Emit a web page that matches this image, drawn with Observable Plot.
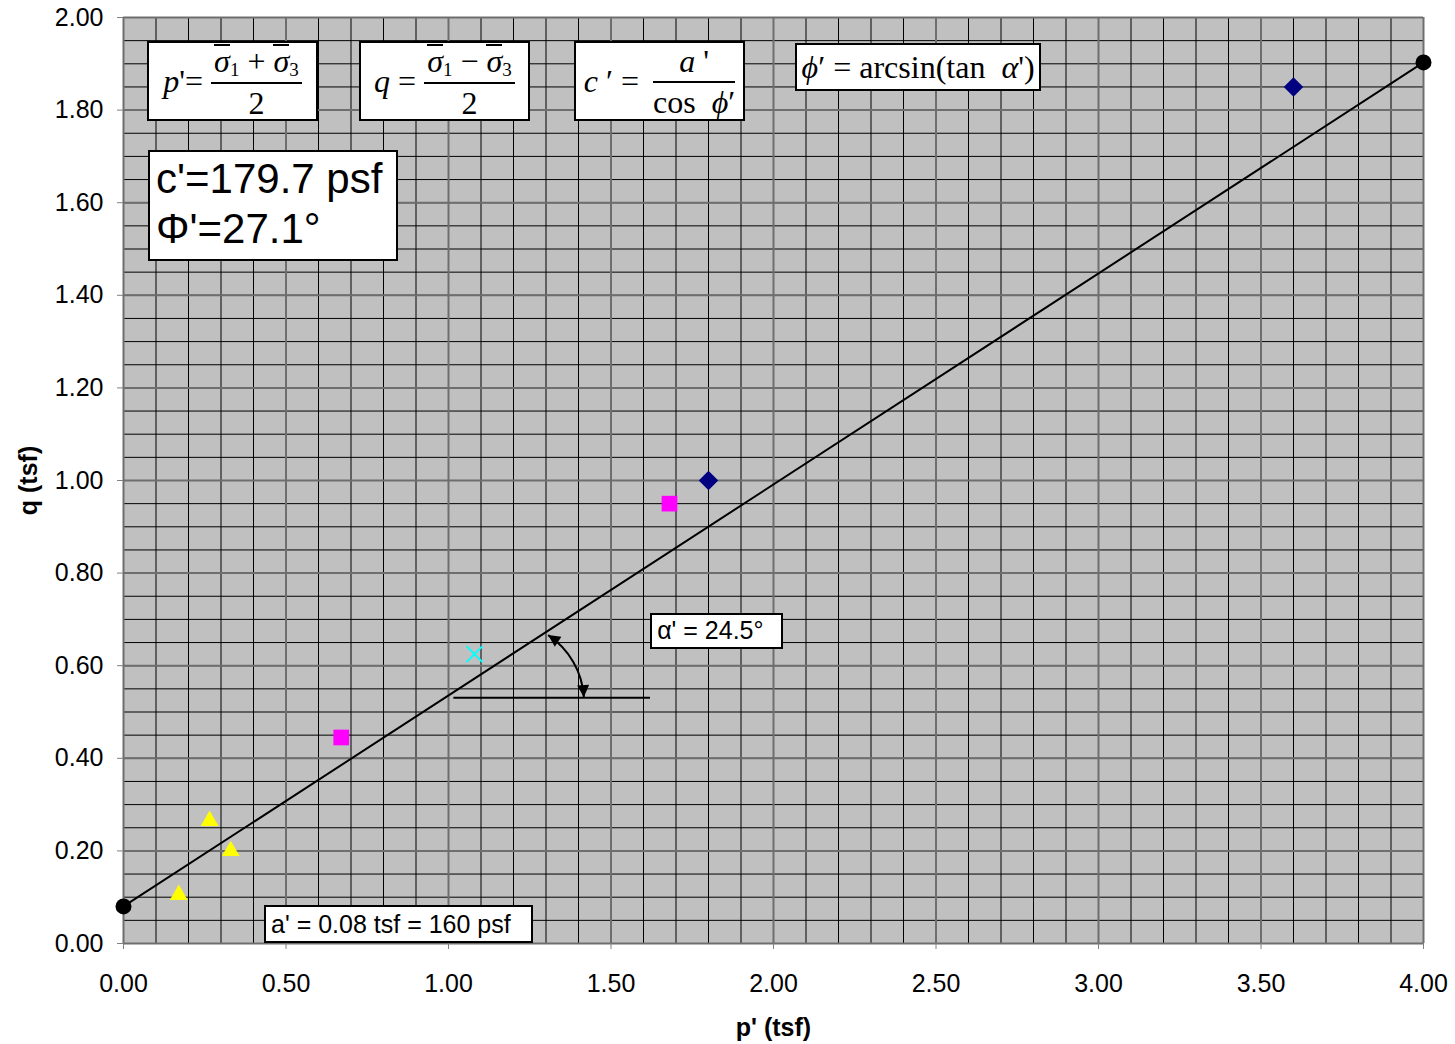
<!DOCTYPE html>
<html>
<head>
<meta charset="utf-8">
<script src="https://cdn.jsdelivr.net/npm/d3@7"></script>
<script src="https://cdn.jsdelivr.net/npm/@observablehq/plot@0.6"></script>
<style>
  html, body { margin: 0; padding: 0; background: white; }
  #wrap { position: relative; width: 1455px; height: 1044px; }
  .box { position: absolute; box-sizing: border-box; border: 2px solid black; background: white; color: black; }
  .eq { display: flex; align-items: center; justify-content: center; font-family: "Liberation Serif", "Times New Roman", serif; font-size: 32px; line-height: 1; white-space: nowrap; }
  .frac { display: inline-flex; flex-direction: column; align-items: stretch; margin-left: 8px; }
  .num { border-bottom: 2px solid black; padding: 0 3px 3px 3px; text-align: center; }
  .den { padding-top: 3px; text-align: center; }
  .ov { display: inline-block; border-top: 2px solid black; line-height: 0.75; padding-top: 3px; font-style: italic; }
  .eq sub { font-size: 19px; vertical-align: -4px; font-style: normal; }
  .txt { display: flex; align-items: center; font-family: Arial, "Liberation Sans", sans-serif; font-size: 25px; white-space: nowrap; padding-left: 5px; }
  .big { font-family: Arial, "Liberation Sans", sans-serif; font-size: 42px; line-height: 50px; padding: 2px 0 0 6px; white-space: nowrap; }
</style>
</head>
<body>
<div id="wrap"></div>
<script>
// ---- data ----
const diamondX = [1.80, 3.60];
const diamondY = [1.00, 1.85];
const squareX = [0.67, 1.68];
const squareY = [0.445, 0.95];
const crossX = [1.08];
const crossY = [0.625];
const triangleX = [0.17, 0.265, 0.33];
const triangleY = [0.105, 0.265, 0.20];
const fitX = [0.00, 4.00];
const fitY = [0.08, 1.903];

const xTicks = [0, 0.5, 1, 1.5, 2, 2.5, 3, 3.5, 4];
const yTicks = [0, 0.2, 0.4, 0.6, 0.8, 1.0, 1.2, 1.4, 1.6, 1.8, 2.0];
const xMinor = d3.range(0, 41).map(i => i / 10);
const yMinor = d3.range(0, 41).map(i => i / 20);

// annotations (data coordinates)
const angleLine = [{x1: 1.015, y1: 0.531, x2: 1.62, y2: 0.531}];
const angleArc = {x1: 1.308, y1: 0.665, x2: 1.418, y2: 0.531, radius: 80};

const toRows = (xs, ys) => xs.map((x, i) => ({x, y: ys[i]}));

const arcMark = (index, scales) => {
  const {x, y} = scales;
  const g = d3.create("svg:g");
  g.append("defs").append("marker")
    .attr("id", "arrowhead")
    .attr("viewBox", "0 0 10 10")
    .attr("refX", 10).attr("refY", 5)
    .attr("markerWidth", 15).attr("markerHeight", 12)
    .attr("markerUnits", "userSpaceOnUse")
    .attr("orient", "auto-start-reverse")
    .append("path").attr("d", "M0,0L10,5L0,10Z").attr("fill", "black");
  const sx = x(angleArc.x1), sy = y(angleArc.y1), ex = x(angleArc.x2), ey = y(angleArc.y2);
  g.append("path")
    .attr("d", `M${sx},${sy}A${angleArc.radius},${angleArc.radius} 0 0 1 ${ex},${ey}`)
    .attr("fill", "none").attr("stroke", "black").attr("stroke-width", 2)
    .attr("marker-start", "url(#arrowhead)").attr("marker-end", "url(#arrowhead)");
  return g.node();
};

const plot = Plot.plot({
  width: 1455,
  height: 1044,
  marginLeft: 123,
  marginRight: 32,
  marginTop: 17,
  marginBottom: 101,
  x: {domain: [0, 4]},
  y: {domain: [0, 2]},
  style: {fontFamily: "Arial, 'Liberation Sans', sans-serif", fontSize: "25px", background: "white", color: "black"},
  marks: [
    Plot.frame({fill: "#c0c0c0", stroke: null}),
    Plot.ruleX(xMinor, {stroke: "black", strokeWidth: 1}),
    Plot.ruleY(yMinor, {stroke: "black", strokeWidth: 1}),
    Plot.ruleX(xTicks, {stroke: "#6e6e6e", strokeWidth: 2}),
    Plot.ruleY(yTicks, {stroke: "#6e6e6e", strokeWidth: 2}),
    Plot.axisX({ticks: xTicks, tickFormat: d => d.toFixed(2), tickSize: 6, tickPadding: 25, stroke: "#808080", fill: "black", label: null, fontSize: 25}),
    Plot.axisY({ticks: yTicks, tickFormat: d => d.toFixed(2), tickSize: 6, tickPadding: 14, stroke: "#808080", fill: "black", label: null, fontSize: 25}),
    Plot.text(["p' (tsf)"], {frameAnchor: "bottom", dy: 84, text: d => d, fontWeight: "bold", fontSize: 25, lineAnchor: "middle"}),
    Plot.text(["q (tsf)"], {frameAnchor: "left", dx: -95, rotate: -90, text: d => d, fontWeight: "bold", fontSize: 25, textAnchor: "middle"}),
    Plot.link(angleLine, {x1: "x1", y1: "y1", x2: "x2", y2: "y2", stroke: "black", strokeWidth: 2}),
    arcMark,
    Plot.line(toRows(fitX, fitY), {x: "x", y: "y", stroke: "black", strokeWidth: 2}),
    Plot.dot(toRows(fitX, fitY), {x: "x", y: "y", r: 8, fill: "black", stroke: null}),
    Plot.dot(toRows(triangleX, triangleY), {x: "x", y: "y", symbol: "triangle", r: 6.6, fill: "#ffff00", stroke: null}),
    Plot.dot(toRows(squareX, squareY), {x: "x", y: "y", symbol: "square", r: 8.85, fill: "#ff00ff", stroke: null}),
    Plot.dot(toRows(diamondX, diamondY), {x: "x", y: "y", symbol: "diamond2", r: 8.8, fill: "#000080", stroke: null}),
    Plot.dot(toRows(crossX, crossY), {x: "x", y: "y", symbol: "times", r: 7.3, stroke: "#00ffff", strokeWidth: 2, fill: "none"})
  ]
});

const wrap = document.getElementById("wrap");
wrap.appendChild(plot);

// annotation boxes placed through the plot's scales
const sx = plot.scale("x"), sy = plot.scale("y");
const notes = [
  {x0: 0.074, x1: 0.600, y0: 1.775, y1: 1.948, cls: "eq",
   html: `<span><i>p</i>'=</span><span class="frac"><span class="num"><span class="ov">σ</span><sub>1</sub> + <span class="ov">σ</span><sub>3</sub></span><span class="den">2</span></span>`},
  {x0: 0.726, x1: 1.252, y0: 1.775, y1: 1.948, cls: "eq",
   html: `<span><i>q</i> =</span><span class="frac"><span class="num"><span class="ov">σ</span><sub>1</sub> − <span class="ov">σ</span><sub>3</sub></span><span class="den">2</span></span>`},
  {x0: 1.388, x1: 1.914, y0: 1.775, y1: 1.948, cls: "eq",
   html: `<span><i>c</i> ′ =</span><span class="frac" style="margin-left:14px"><span class="num" style="padding:0 4px 4px 4px"><i>a</i> '</span><span class="den">cos&nbsp; <i>ϕ</i>′</span></span>`},
  {x0: 2.068, x1: 2.825, y0: 1.840, y1: 1.944, cls: "eq",
   html: `<span><i>ϕ</i>′ = arcsin(tan&nbsp; <i>α</i>')</span>`},
  {x0: 0.077, x1: 0.846, y0: 1.473, y1: 1.713, cls: "big",
   html: `c'=179.7 psf<br>Φ'=27.1°`},
  {x0: 1.622, x1: 2.031, y0: 0.635, y1: 0.713, cls: "txt",
   html: `α' = 24.5°`},
  {x0: 0.434, x1: 1.262, y0: 0.000, y1: 0.082, cls: "txt",
   html: `a' = 0.08 tsf = 160 psf`}
];
for (const n of notes) {
  const d = document.createElement("div");
  d.className = "box " + n.cls;
  const left = sx.apply(n.x0), right = sx.apply(n.x1);
  const top = sy.apply(n.y1), bottom = sy.apply(n.y0);
  d.style.left = left + "px";
  d.style.top = top + "px";
  d.style.width = (right - left) + "px";
  d.style.height = (bottom - top) + "px";
  d.innerHTML = n.html;
  wrap.appendChild(d);
}
</script>
</body>
</html>
